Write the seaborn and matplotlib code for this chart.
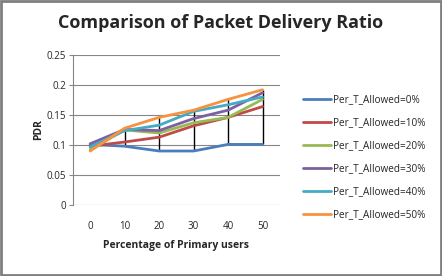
import seaborn as sb
import pandas as pd
import numpy as np
import matplotlib.pyplot as plt
from matplotlib.patches import Rectangle

# percentage of primary users on x axis
primary_users = [0, 10, 20, 30, 40, 50]
series_names = ['Per_T_Allowed=0%', 'Per_T_Allowed=10%', 'Per_T_Allowed=20%',
                'Per_T_Allowed=30%', 'Per_T_Allowed=40%', 'Per_T_Allowed=50%']
pdr_0 = [0.101, 0.098, 0.090, 0.090, 0.101, 0.101]
pdr_10 = [0.098, 0.105, 0.113, 0.132, 0.146, 0.164]
pdr_20 = [0.092, 0.125, 0.120, 0.137, 0.146, 0.176]
pdr_30 = [0.102, 0.126, 0.124, 0.144, 0.158, 0.187]
pdr_40 = [0.097, 0.124, 0.133, 0.156, 0.167, 0.180]
pdr_50 = [0.090, 0.128, 0.146, 0.158, 0.176, 0.192]
colors = ['#4A7EBB', '#BE4B48', '#98B954', '#7D60A0', '#46AAC5', '#F69240']

all_series = [pdr_0, pdr_10, pdr_20, pdr_30, pdr_40, pdr_50]
rows = []
for name, vals in zip(series_names, all_series):
    for x, v in zip(primary_users, vals):
        rows.append([x, v, name])
df = pd.DataFrame(rows, columns=['users', 'PDR', 'series'])

sb.set_style('white')
plt.rcParams['font.family'] = ['Open Sans', 'DejaVu Sans']

fig = plt.figure(figsize=(4.42, 2.76), dpi=100)
ax = fig.add_axes([0.165, 0.257, 0.468, 0.544])

# high-low lines like excel
lo = df.groupby('users')['PDR'].min()
hi = df.groupby('users')['PDR'].max()
ax.vlines(lo.index, lo.values, hi.values, color='black', lw=1, zorder=1)

sb.lineplot(data=df, x='users', y='PDR', hue='series', palette=colors,
            linewidth=2, ax=ax, legend=False, zorder=2)

ax.set_xlim(-5, 55)
ax.set_ylim(0, 0.25)
ax.set_yticks([0, 0.05, 0.1, 0.15, 0.2, 0.25])
ax.set_yticklabels(['0', '0.05', '0.1', '0.15', '0.2', '0.25'])
ax.set_xticks(primary_users)
ax.yaxis.grid(True, color='#868686', lw=0.8)
for s in ['top', 'right', 'bottom']:
    ax.spines[s].set_visible(False)
ax.spines['left'].set_color('#868686')
ax.tick_params(axis='y', left=True, length=3, color='#868686', labelsize=7, pad=2)
ax.tick_params(axis='x', bottom=False, labelsize=7, pad=8)
ax.set_xlabel('Percentage of Primary users', fontsize=7.5, fontweight='bold', labelpad=6)
ax.set_ylabel('PDR', fontsize=7.5, fontweight='bold', labelpad=2)

handles = [plt.Line2D([], [], color=c, lw=2) for c in colors]
fig.legend(handles, series_names, loc='center left', bbox_to_anchor=(0.665, 0.431),
           frameon=False, fontsize=7.2, handlelength=2.8, labelspacing=1.2, handletextpad=0.2)

fig.text(0.5, 0.915, 'Comparison of Packet Delivery Ratio', ha='center', va='center',
         fontsize=13, fontweight='bold')
fig.patches.append(Rectangle((0.003, 0.005), 0.994, 0.99, transform=fig.transFigure,
                             fill=False, edgecolor='#7f7f7f', lw=2))

fig.savefig('out.png', dpi=100)
